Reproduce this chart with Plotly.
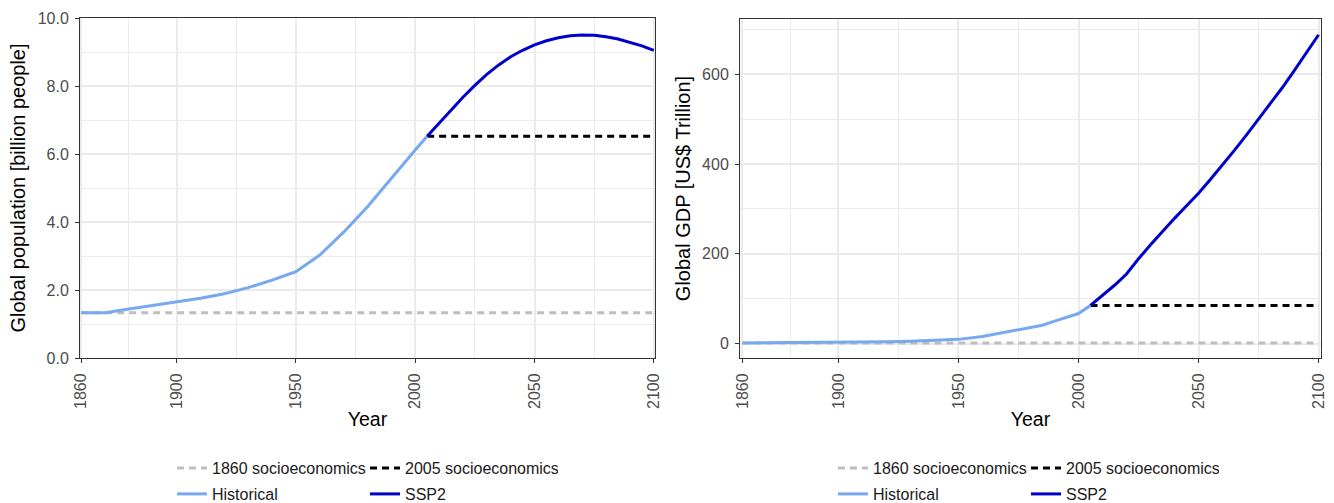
import plotly.graph_objects as go

# ---------------- data ----------------
HIST_YEARS = [1860, 1870, 1880, 1890, 1900, 1910, 1920, 1930, 1940, 1950,
              1960, 1970, 1980, 1985, 1990, 2000, 2005]
POP_HIST = [1.33, 1.33, 1.44, 1.54, 1.65, 1.76, 1.89, 2.07, 2.29, 2.54,
            3.03, 3.70, 4.45, 4.87, 5.30, 6.12, 6.52]
GDP_HIST = [1.5, 1.8, 2.2, 2.6, 3.2, 3.9, 4.4, 5.5, 7.0, 9.5,
            16.0, 26.0, 37.0, 41.0, 50.0, 67.0, 85.0]

SSP_YEARS = [2005, 2010, 2015, 2020, 2025, 2030, 2035, 2040, 2045, 2050,
             2055, 2060, 2065, 2070, 2075, 2080, 2085, 2090, 2095, 2100]
POP_SSP2 = [6.52, 6.90, 7.30, 7.67, 8.02, 8.34, 8.62, 8.86, 9.05, 9.21,
            9.33, 9.42, 9.48, 9.50, 9.49, 9.45, 9.38, 9.29, 9.18, 9.05]
GDP_SSP2 = [85, 107, 130, 155, 189, 220, 250, 279, 307, 335,
            366, 398, 431, 465, 500, 535, 571, 609, 648, 688]

BASE_1860_YEARS = [1860, 2100]
BASE_2005_YEARS = [2005, 2100]

X_TICKS = [1860, 1900, 1950, 2000, 2050, 2100]
X_MINOR = [1880, 1925, 1975, 2025, 2075]
POP_TICKS = [0, 2, 4, 6, 8, 10]
POP_TICK_LABELS = ["0.0", "2.0", "4.0", "6.0", "8.0", "10.0"]
POP_MINOR = [1, 3, 5, 7, 9]
GDP_TICKS = [0, 200, 400, 600]
GDP_MINOR = [100, 300, 500, 700]

NAMES = ["1860 socioeconomics", "2005 socioeconomics", "Historical", "SSP2"]
COLORS = ["#BEBEBE", "#000000", "#78A8F0", "#0000CD"]

FONT = "Liberation Sans, Arial, Helvetica, sans-serif"

fig = go.Figure()


def add_panel(xa, ya, hist, ssp, legs):
    # 1860 socioeconomics (constant at 1860 value)
    fig.add_trace(go.Scatter(x=BASE_1860_YEARS, y=[hist[0]] * 2, mode="lines",
                             name=NAMES[0], xaxis=xa, yaxis=ya, legend=legs[0],
                             line=dict(color=COLORS[0], width=3, dash="7px,5px")))
    # 2005 socioeconomics (constant at 2005 value)
    fig.add_trace(go.Scatter(x=BASE_2005_YEARS, y=[hist[-1]] * 2, mode="lines",
                             name=NAMES[1], xaxis=xa, yaxis=ya, legend=legs[0],
                             line=dict(color=COLORS[1], width=3, dash="7px,5px")))
    fig.add_trace(go.Scatter(x=HIST_YEARS, y=hist, mode="lines",
                             name=NAMES[2], xaxis=xa, yaxis=ya, legend=legs[1],
                             line=dict(color=COLORS[2], width=3)))
    fig.add_trace(go.Scatter(x=SSP_YEARS, y=ssp, mode="lines",
                             name=NAMES[3], xaxis=xa, yaxis=ya, legend=legs[1],
                             line=dict(color=COLORS[3], width=3)))


add_panel("x", "y", POP_HIST, POP_SSP2, ["legend", "legend2"])
add_panel("x2", "y2", GDP_HIST, GDP_SSP2, ["legend3", "legend4"])

W, H = 1334, 503
ML, MR, MT, MB = 80, 13, 18, 145
PW = W - ML - MR
PH = H - MT - MB


def px_x(p):
    return (p - ML) / PW


def cx(p):
    return p / W


def cy(p):
    return (H - p) / H


common_axis = dict(
    showline=True, mirror=True, linecolor="#333333", linewidth=1,
    ticks="outside", ticklen=4, tickcolor="#333333", tickwidth=1,
    showgrid=True, gridcolor="#EBEBEB", gridwidth=1.5,
    zeroline=False, automargin=False,
    tickfont=dict(family=FONT, size=16, color="#4D4D4D"),
)

xaxis_common = dict(common_axis, tickmode="array", tickvals=X_TICKS,
                    tickangle=-90, ticklabelstandoff=4,
                    minor=dict(tickmode="array", tickvals=X_MINOR, showgrid=True,
                               gridcolor="#EBEBEB", gridwidth=0.8, ticks=""),
                    title=dict(text="Year", font=dict(family=FONT, size=19.5, color="#000000"),
                               standoff=4))

ytitle_font = dict(family=FONT, size=20, color="#000000")

fig.update_layout(
    width=W, height=H,
    margin=dict(l=ML, r=MR, t=MT, b=MB, autoexpand=False),
    paper_bgcolor="white", plot_bgcolor="white",
    font=dict(family=FONT),
    xaxis=dict(xaxis_common, domain=[0, px_x(655)], range=[1859.5, 2100.5], anchor="y"),
    xaxis2=dict(xaxis_common, domain=[px_x(740), 1], range=[1859, 2101], anchor="y2"),
    yaxis=dict(common_axis, domain=[0, 1], range=[0, 10], anchor="x",
               tickmode="array", tickvals=POP_TICKS, ticktext=POP_TICK_LABELS,
               ticklabelstandoff=3,
               minor=dict(tickmode="array", tickvals=POP_MINOR, showgrid=True,
                          gridcolor="#EBEBEB", gridwidth=0.8, ticks=""),
               title=dict(text="Global population [billion people]",
                          font=ytitle_font, standoff=6)),
    yaxis2=dict(common_axis, domain=[0, 1 - 1 / PH], range=[-32, 723], anchor="x2",
                tickmode="array", tickvals=GDP_TICKS, ticklabelstandoff=3,
                minor=dict(tickmode="array", tickvals=GDP_MINOR, showgrid=True,
                           gridcolor="#EBEBEB", gridwidth=0.8, ticks=""),
                title=dict(text="Global GDP [US$ Trillion]",
                           font=ytitle_font, standoff=6)),
)

leg_common = dict(orientation="h", xanchor="left", yanchor="middle",
                  xref="container", yref="container",
                  font=dict(family=FONT, size=16, color="#1A1A1A"),
                  entrywidth=148, entrywidthmode="pixels", itemwidth=30,
                  bgcolor="rgba(0,0,0,0)", tracegroupgap=0)

fig.update_layout(
    legend=dict(leg_common, x=cx(172), y=cy(468)),
    legend2=dict(leg_common, x=cx(172), y=cy(494)),
    legend3=dict(leg_common, x=cx(833), y=cy(468)),
    legend4=dict(leg_common, x=cx(833), y=cy(494)),
)

fig.write_html("out.html")
